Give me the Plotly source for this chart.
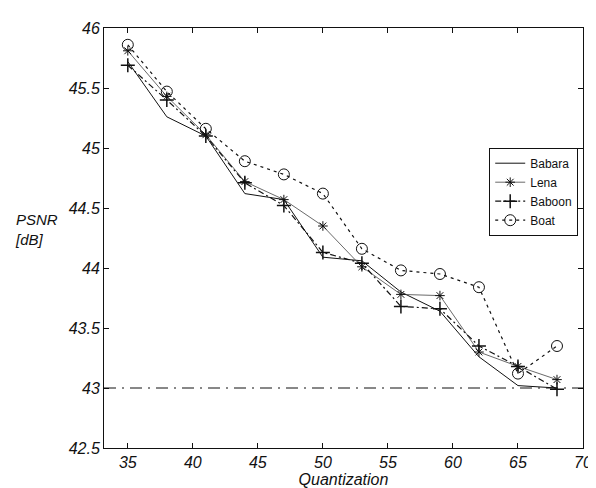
import plotly.graph_objects as go

quantization = [35, 38, 41, 44, 47, 50, 53, 56, 59, 62, 65, 68]
babara = [45.72, 45.26, 45.10, 44.62, 44.57, 44.09, 44.06, 43.80, 43.64, 43.26, 43.02, 43.00]
lena = [45.81, 45.43, 45.11, 44.72, 44.57, 44.35, 44.01, 43.78, 43.77, 43.30, 43.18, 43.07]
baboon = [45.69, 45.40, 45.10, 44.71, 44.52, 44.13, 44.04, 43.68, 43.66, 43.35, 43.18, 42.99]
boat = [45.86, 45.47, 45.16, 44.89, 44.78, 44.62, 44.16, 43.98, 43.95, 43.84, 43.12, 43.35]
threshold = 43.0

x_ticks = [35, 40, 45, 50, 55, 60, 65, 70]
y_ticks = [42.5, 43, 43.5, 44, 44.5, 45, 45.5, 46]
y_ticktext = ["42.5", "43", "43.5", "44", "44.5", "45", "45.5", "46"]

FONT = "Liberation Sans, Arial, sans-serif"
INK = "#111111"

fig = go.Figure()
fig.add_trace(go.Scatter(x=quantization, y=babara, name="Babara", mode="lines",
                         line=dict(color=INK, width=1)))
fig.add_trace(go.Scatter(x=quantization, y=lena, name="Lena", mode="lines+markers",
                         line=dict(color="#444444", width=0.8),
                         marker=dict(symbol="asterisk-open", size=8, color=INK,
                                     line=dict(color=INK, width=1))))
fig.add_trace(go.Scatter(x=quantization, y=baboon, name="Baboon", mode="lines+markers",
                         line=dict(color=INK, width=1.2, dash="6px,3px,2px,3px"),
                         marker=dict(symbol="cross-thin-open", size=10, color=INK,
                                     line=dict(color=INK, width=1.5))))
fig.add_trace(go.Scatter(x=quantization, y=boat, name="Boat", mode="lines+markers",
                         line=dict(color=INK, width=1.2, dash="3px,4px"),
                         marker=dict(symbol="circle-open", size=11, color=INK,
                                     line=dict(color=INK, width=1))))

fig.add_hline(y=threshold, line=dict(color=INK, width=1, dash="12px,6px,2px,6px"))

fig.add_annotation(text="<i>PSNR</i><br><i>[dB]</i>", xref="paper", yref="paper",
                   x=-0.19, y=0.52, xanchor="left", yanchor="middle", showarrow=False,
                   align="left", font=dict(family=FONT, size=15, color=INK))

axis_common = dict(showline=True, linecolor=INK, linewidth=1, mirror="ticks",
                   ticks="inside", ticklen=5, tickcolor=INK, showgrid=False, zeroline=False,
                   tickfont=dict(family=FONT, size=16, color=INK, style="italic"))

fig.update_layout(
    width=596, height=488,
    margin=dict(l=96, r=19, t=15, b=48),
    paper_bgcolor="white", plot_bgcolor="white",
    font=dict(family=FONT, color=INK),
    xaxis=dict(range=[33.17, 70], tickvals=x_ticks,
               title=dict(text="Quantization", standoff=2,
                          font=dict(family=FONT, size=16, color=INK, style="italic")),
               **axis_common),
    yaxis=dict(range=[42.5, 46], tickvals=y_ticks, ticktext=y_ticktext, **axis_common),
    legend=dict(x=0.99, y=0.715, xanchor="right", yanchor="top",
                bordercolor=INK, borderwidth=1, bgcolor="white",
                font=dict(family=FONT, size=12, color=INK),
                tracegroupgap=0, itemwidth=30),
    showlegend=True,
)

fig.write_html("out.html")
